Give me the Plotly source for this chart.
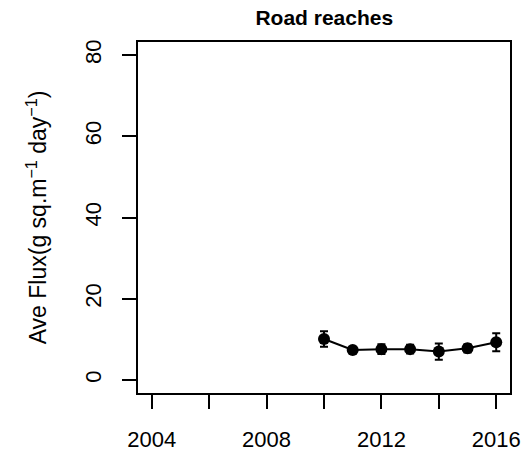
import plotly.graph_objects as go

years = [2010, 2011, 2012, 2013, 2014, 2015, 2016]
flux = [10.1, 7.4, 7.6, 7.6, 7.0, 7.8, 9.3]
err = [1.9, 0.7, 1.2, 1.1, 2.0, 1.0, 2.2]

x_tickvals = [2004, 2008, 2012, 2016]
x_minor_step = 2
y_tickvals = [0, 20, 40, 60, 80]

font_family = "Liberation Sans, Arial, sans-serif"

fig = go.Figure()
fig.add_trace(go.Scatter(
    x=years, y=flux, mode="lines+markers",
    line=dict(color="black", width=2),
    marker=dict(color="black", size=12, symbol="circle"),
    error_y=dict(type="data", array=err, visible=True, color="black", thickness=2, width=4),
    showlegend=False,
))

fig.update_layout(
    width=523, height=457,
    margin=dict(l=138, r=13, t=42, b=64, autoexpand=False),
    paper_bgcolor="white", plot_bgcolor="white",
    font=dict(family=font_family, color="black", size=22),
    title=dict(text="<b>Road reaches</b>", x=0.62, xanchor="center", y=0.961, yanchor="middle",
               font=dict(size=21, family=font_family, color="black")),
    xaxis=dict(range=[2003.52, 2016.48], tickvals=x_tickvals,
               showline=True, linecolor="black", linewidth=1.5, mirror=True,
               ticks="outside", ticklen=14, tickwidth=1.5, tickcolor="black",
               minor=dict(ticks="outside", ticklen=14, tickwidth=1.5, tickcolor="black",
                          tick0=x_tickvals[0], dtick=x_minor_step, showgrid=False),
               showgrid=False, zeroline=False, tickfont=dict(size=22),
               automargin=False, ticklabelstandoff=12),
    yaxis=dict(range=[-3.2, 83.2], tickvals=y_tickvals, tickangle=-90,
               showline=True, linecolor="black", linewidth=1.5, mirror=True,
               ticks="outside", ticklen=14, tickwidth=1.5, tickcolor="black",
               showgrid=False, zeroline=False, tickfont=dict(size=22),
               automargin=False, ticklabelstandoff=12,
               title=dict(text="Ave Flux(g sq.m<sup>\u22121</sup> day<sup>\u22121</sup>)",
                          font=dict(size=23), standoff=28)),
)

fig.write_html("out.html", config={"displayModeBar": False},
               post_script="document.body.style.margin='0';")
